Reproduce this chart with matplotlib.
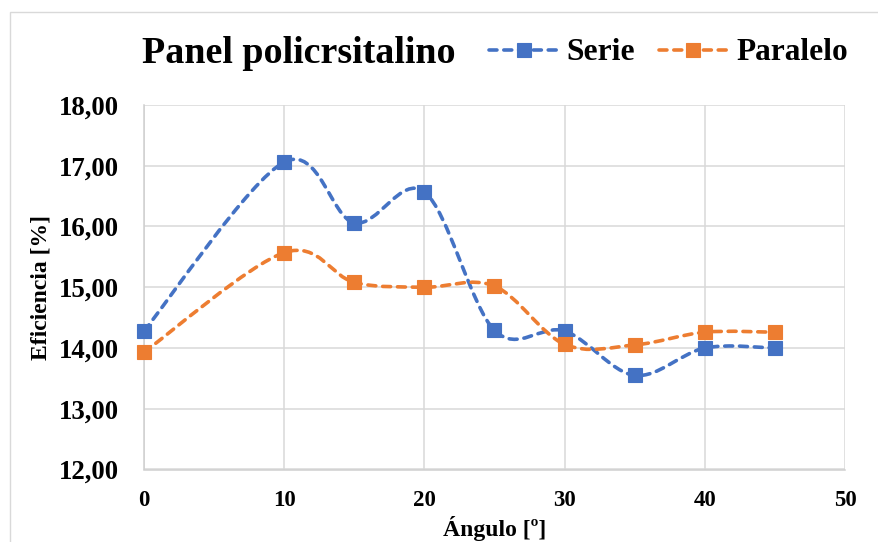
import numpy as np
import matplotlib
matplotlib.use("Agg")
import matplotlib.pyplot as plt
from matplotlib.path import Path
from matplotlib.patches import PathPatch, Rectangle
from matplotlib.lines import Line2D

# ---- data ----
angles = [0, 10, 15, 20, 25, 30, 35, 40, 45]
serie = [14.28, 17.06, 16.06, 16.57, 14.29, 14.28, 13.55, 14.00, 14.00]
paralelo = [13.93, 15.57, 15.08, 15.00, 15.02, 14.06, 14.05, 14.26, 14.26]
series_names = ["Serie", "Paralelo"]
x_ticks = [0, 10, 20, 30, 40, 50]
x_ticklabels = ["0", "10", "20", "30", "40", "50"]
y_ticks = [12, 13, 14, 15, 16, 17, 18]
y_ticklabels = ["12,00", "13,00", "14,00", "15,00", "16,00", "17,00", "18,00"]
title = "Panel policrsitalino"
xlabel = "Ángulo [º]"
ylabel = "Eficiencia [%]"

colors = ["#4472C4", "#ED7D31"]
FONT = "Liberation Serif"
W, H = 879, 542

fig = plt.figure(figsize=(W / 100, H / 100), dpi=100)
fig.patch.set_facecolor("white")

# chart border
fig.add_artist(Rectangle((10 / W, -0.1), 1.2, 1 - 11.5 / H + 0.1,
                         transform=fig.transFigure, fill=False,
                         edgecolor="#d9d9d9", lw=1.0))

ax = fig.add_axes([144 / W, 1 - 469.5 / H, (845 - 144) / W, (469.5 - 105) / H])
ax.set_xlim(0, 50)
ax.set_ylim(12, 18)


def smooth_path(x, y):
    pts = np.column_stack([x, y]).astype(float)
    n = len(pts)
    verts = [pts[0]]
    codes = [Path.MOVETO]
    for i in range(n - 1):
        p0 = pts[i - 1] if i > 0 else pts[i]
        p1 = pts[i]
        p2 = pts[i + 1]
        p3 = pts[i + 2] if i + 2 < n else pts[i + 1]
        c1 = p1 + (p2 - p0) / 6.0
        c2 = p2 - (p3 - p1) / 6.0
        verts += [c1, c2, p2]
        codes += [Path.CURVE4] * 3
    return Path(verts, codes)


LW = 2.6
DASH = (0, (2.2, 1.9))
for vals, col in zip([serie, paralelo], colors):
    patch = PathPatch(smooth_path(angles, vals), fill=False, edgecolor=col,
                      lw=LW, linestyle=DASH, capstyle="round", zorder=3)
    ax.add_patch(patch)
    ax.plot(angles, vals, linestyle="none", marker="s", ms=10, color=col,
            mec=col, mew=0.8, zorder=4, clip_on=False)

# grid / spines
ax.set_xticks(x_ticks)
ax.set_xticklabels(x_ticklabels)
ax.set_yticks(y_ticks)
ax.set_yticklabels(y_ticklabels)
ax.grid(True, color="#d9d9d9", lw=1.1)
ax.set_axisbelow(True)
for s in ["top", "right"]:
    ax.spines[s].set_visible(False)
ax.spines["left"].set_color("#cfcfcf")
ax.spines["bottom"].set_color("#cfcfcf")
ax.spines["left"].set_linewidth(1.1)
ax.spines["bottom"].set_linewidth(1.1)
ax.tick_params(axis="both", length=0)
ax.tick_params(axis="x", pad=15)
ax.tick_params(axis="y", pad=18)
for lab in ax.get_xticklabels():
    lab.set_fontfamily(FONT)
    lab.set_fontweight("bold")
    lab.set_fontsize(16.5)
for lab in ax.get_yticklabels():
    lab.set_fontfamily(FONT)
    lab.set_fontweight("bold")
    lab.set_fontsize(19.3)

fig.text(495 / W, 1 - 536 / H, xlabel, ha="center", va="baseline",
         fontfamily=FONT, fontweight="bold", fontsize=17)
fig.text(41 / W, 1 - 288 / H, ylabel, ha="center", va="center", rotation=90,
         fontfamily=FONT, fontweight="bold", fontsize=17)

fig.text(142 / W, 1 - 63 / H, title, ha="left", va="baseline",
         fontfamily=FONT, fontweight="bold", fontsize=27.4)

handles = [Line2D([], [], color=c, lw=LW, linestyle=DASH, dash_capstyle="round",
                  marker="s", ms=10, mec=c, mew=0.8) for c in colors]
leg = fig.legend(handles, series_names, loc="center left",
                 bbox_to_anchor=(489 / W, 1 - 53 / H), ncol=2, frameon=False,
                 borderpad=0, borderaxespad=0, handlelength=2.2,
                 handletextpad=0.27, columnspacing=0.75,
                 prop={"family": FONT, "weight": "bold", "size": 22.6})

fig.savefig("out.png", dpi=100)
